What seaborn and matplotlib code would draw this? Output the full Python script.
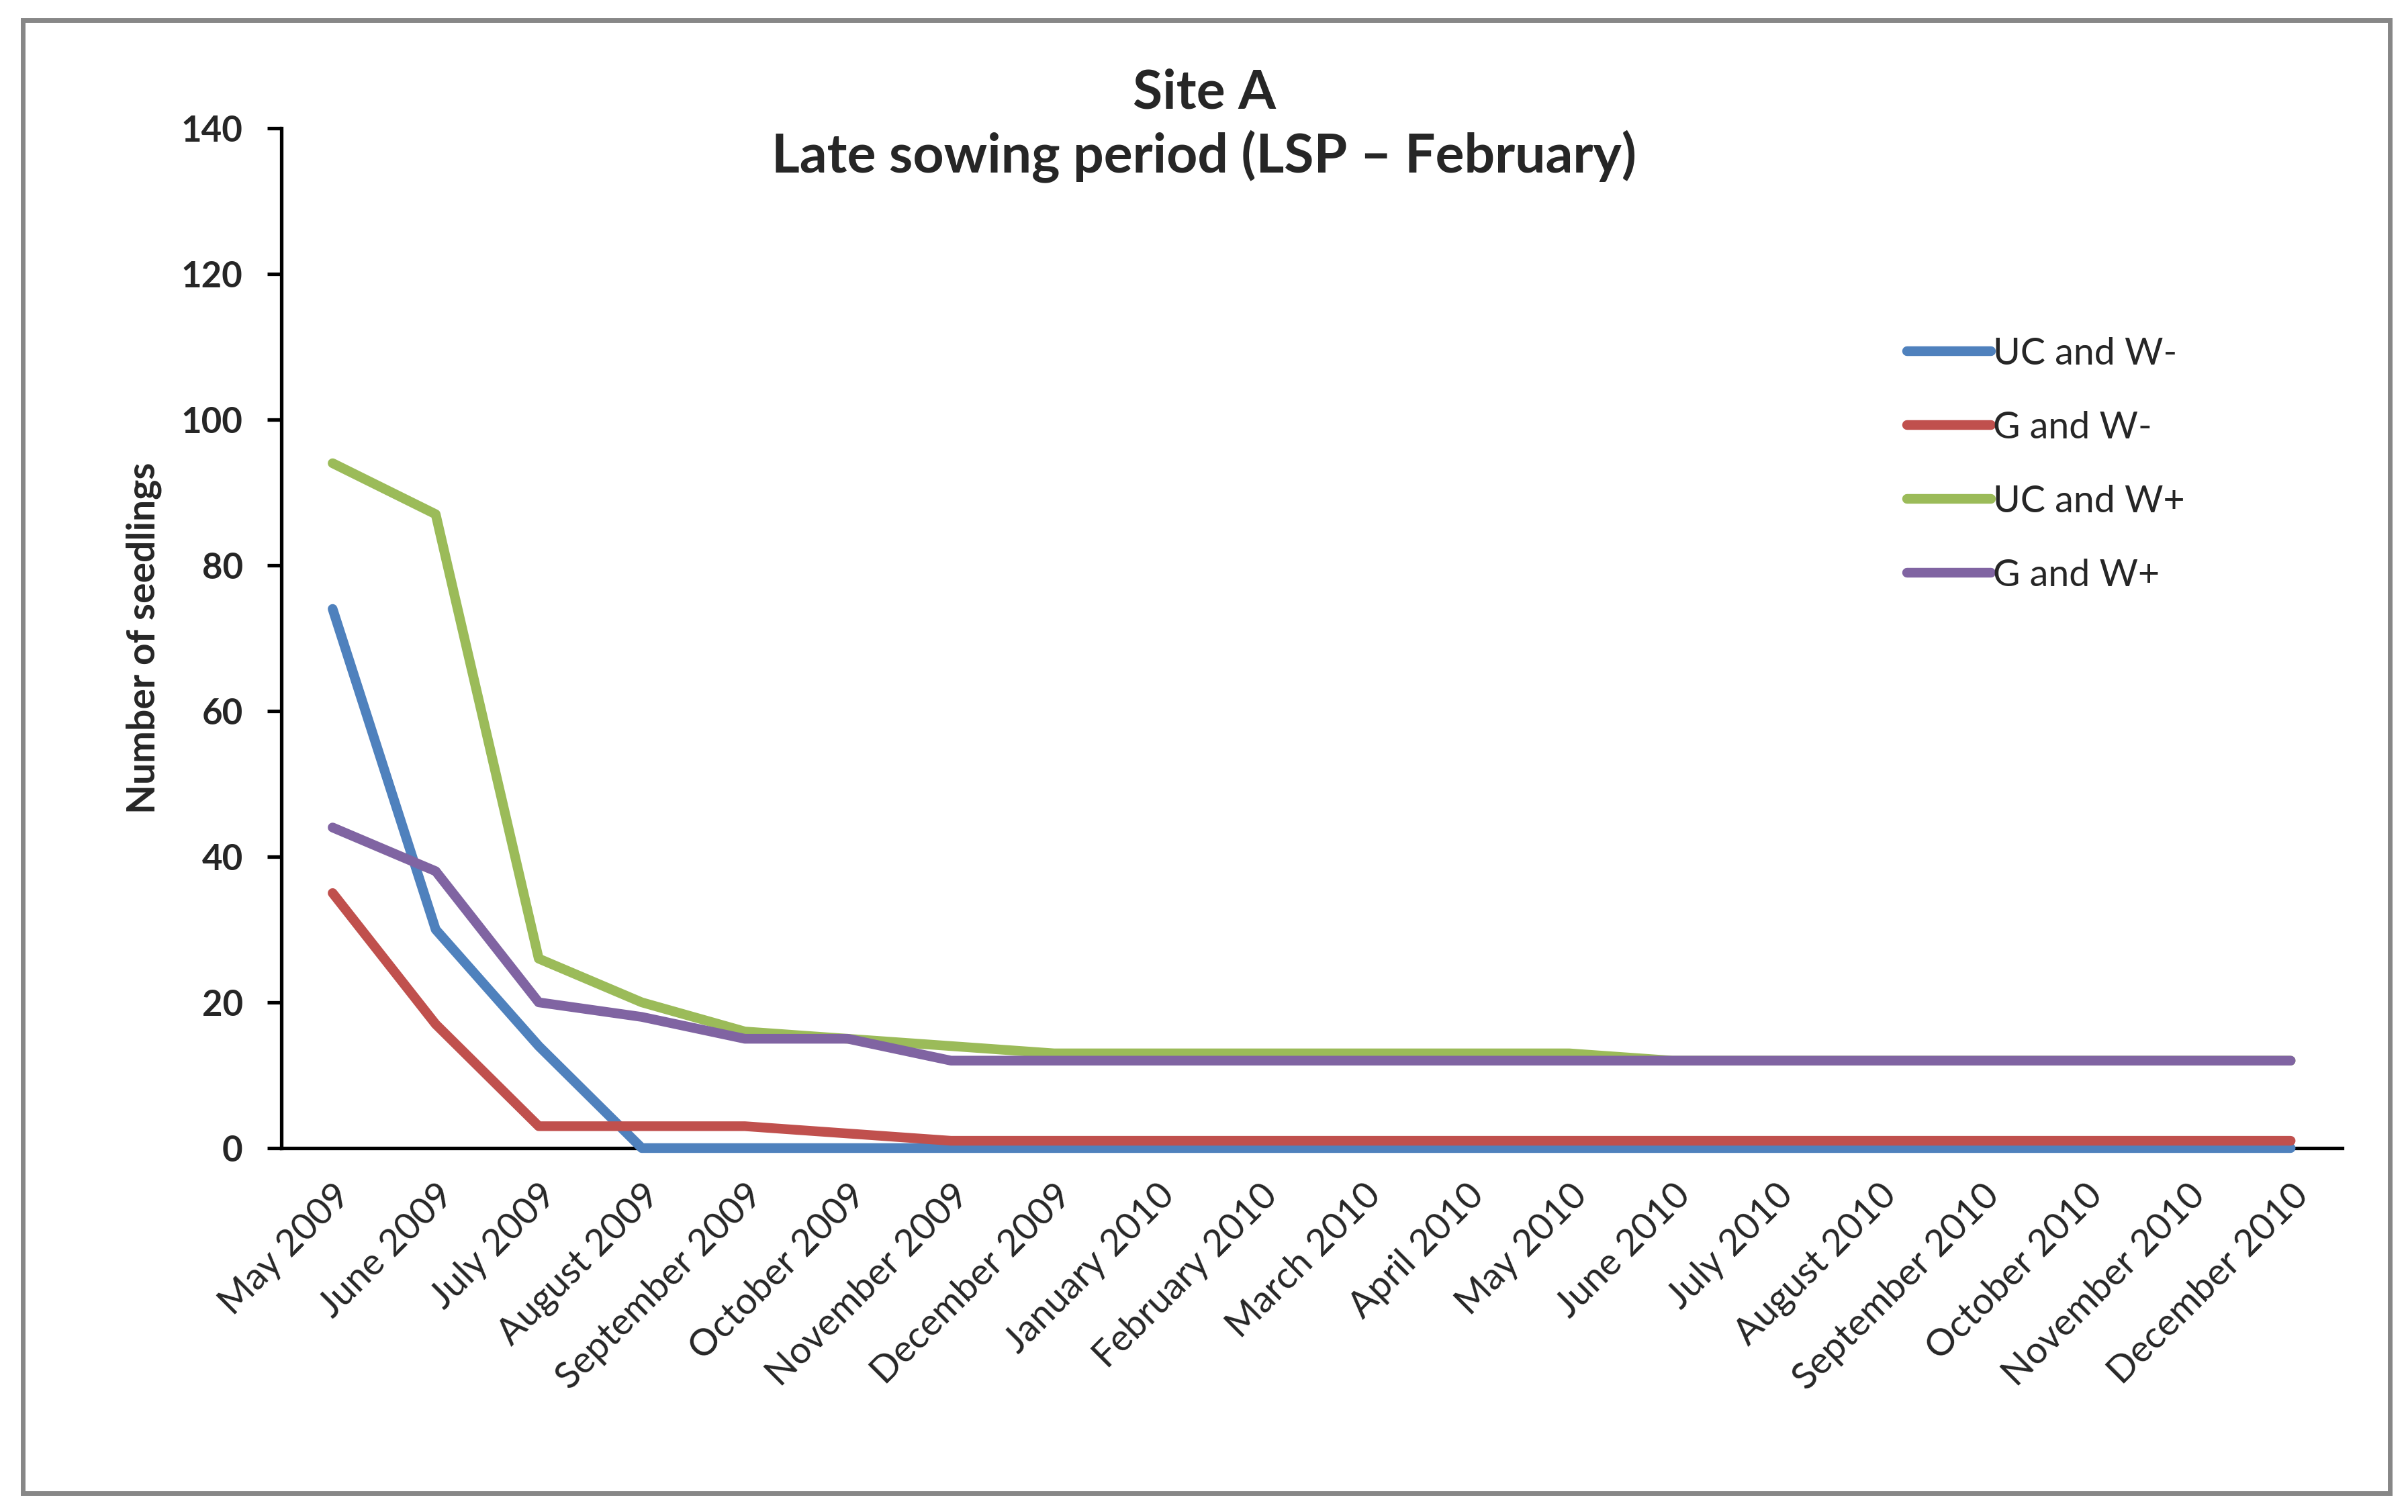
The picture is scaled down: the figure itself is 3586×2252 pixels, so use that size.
import matplotlib
matplotlib.use("Agg")
import matplotlib.pyplot as plt
from matplotlib.patches import Rectangle
import seaborn as sns

# ── Data ─────────────────────────────────────────────────────
months = [
    "May 2009", "June 2009", "July 2009", "August 2009", "September 2009",
    "October 2009", "November 2009", "December 2009", "January 2010",
    "February 2010", "March 2010", "April 2010", "May 2010", "June 2010",
    "July 2010", "August 2010", "September 2010", "October 2010",
    "November 2010", "December 2010",
]
uc_w_minus = [74, 30, 14, 0, 0, 0, 0, 0, 0, 0, 0, 0, 0, 0, 0, 0, 0, 0, 0, 0]
g_w_minus = [35, 17, 3, 3, 3, 2, 1, 1, 1, 1, 1, 1, 1, 1, 1, 1, 1, 1, 1, 1]
uc_w_plus = [94, 87, 26, 20, 16, 15, 14, 13, 13, 13, 13, 13, 13, 12, 12, 12, 12, 12, 12, 12]
g_w_plus = [44, 38, 20, 18, 15, 15, 12, 12, 12, 12, 12, 12, 12, 12, 12, 12, 12, 12, 12, 12]

series_names = ["UC and W-", "G and W-", "UC and W+", "G and W+"]
series_values = [uc_w_minus, g_w_minus, uc_w_plus, g_w_plus]
y_ticks = [0, 20, 40, 60, 80, 100, 120, 140]

COLORS = ["#4F81BD", "#C0504D", "#9BBB59", "#8064A2"]

# ── Style ────────────────────────────────────────────────────
sns.set_theme(style="white")
plt.rcParams["font.family"] = ["Lato", "DejaVu Sans"]

fig = plt.figure(figsize=(3587 / 200, 2252 / 200), dpi=200)
ax = fig.add_axes([0.1167, 0.2407, 0.9724 - 0.1167, 0.9153 - 0.2407])

for name, vals, color in zip(series_names, series_values, COLORS):
    sns.lineplot(
        x=months, y=vals, ax=ax, label=name, color=color,
        linewidth=5.2, sort=False, zorder=3, clip_on=False,
        solid_capstyle="round", solid_joinstyle="round",
    )

# ── Axes ─────────────────────────────────────────────────────
ax.set_xlim(-0.5, len(months) - 0.5)
ax.set_ylim(0, 140)
ax.set_yticks(y_ticks)
ax.set_yticklabels([str(t) for t in y_ticks], fontsize=19, fontweight="bold")

for side in ["top", "right"]:
    ax.spines[side].set_visible(False)
for side in ["left", "bottom"]:
    ax.spines[side].set_color("black")
    ax.spines[side].set_linewidth(1.9)

ax.tick_params(axis="y", direction="out", length=7.5, width=1.9, color="black", left=True, pad=13)
ax.tick_params(axis="x", length=0, pad=16)
ax.set_xticks(range(len(months)))
ax.set_xticklabels(months, rotation=45, ha="right", va="top",
                   rotation_mode="anchor", fontsize=20)

ax.set_xlabel("")
ax.set_ylabel("Number of seedlings", fontsize=20.5, fontweight="bold")
ax.yaxis.set_label_coords(-0.058, 0.5)
ax.grid(False)

# ── Title ────────────────────────────────────────────────────
fig.text(0.5, 0.917, "Site A\nLate sowing period (LSP – February)",
         ha="center", va="center", fontsize=29, fontweight="bold",
         linespacing=1.28)

# ── Legend ───────────────────────────────────────────────────
ax.legend(
    loc="upper left", bbox_to_anchor=(0.7855, 0.787), bbox_transform=fig.transFigure,
    frameon=False, fontsize=20, handlelength=2.25, handletextpad=0.05,
    labelspacing=1.06, borderaxespad=0,
)

# ── Outer border ─────────────────────────────────────────────
fig.patches.append(Rectangle(
    (0.0096, 0.0123), 0.9923 - 0.0096, 0.9867 - 0.0123,
    transform=fig.transFigure, fill=False, edgecolor="#878787", linewidth=2.5,
))

fig.savefig("out.png", dpi=200)
